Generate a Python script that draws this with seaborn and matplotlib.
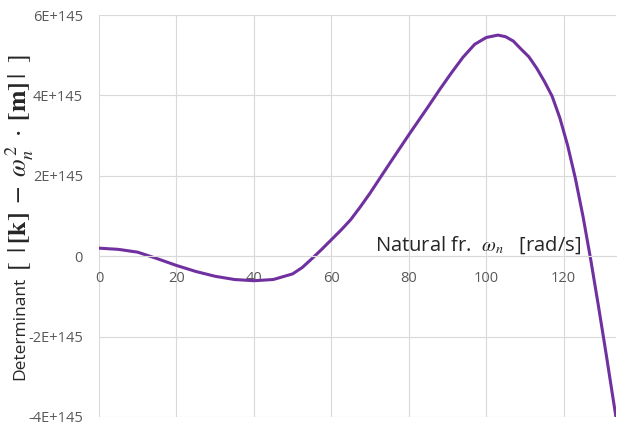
import matplotlib
matplotlib.use("Agg")
import matplotlib.pyplot as plt
import seaborn as sns
import pandas as pd
from matplotlib.ticker import FuncFormatter

# Data (determinant in units of 1E+145)
omega = [0, 5, 10, 15, 20, 25, 30, 35, 40, 45, 50, 52.5, 55, 57.5, 60, 62.5, 65,
         67.5, 70, 75, 80, 85, 88, 91, 94, 97, 100, 103, 105, 107, 109, 111, 113,
         115, 117, 119, 121, 123, 125, 127, 129, 131, 133, 134]
det_e145 = [0.20, 0.17, 0.10, -0.06, -0.23, -0.38, -0.50, -0.58, -0.61, -0.58,
            -0.44, -0.28, -0.06, 0.17, 0.41, 0.65, 0.91, 1.23, 1.57, 2.30, 3.02,
            3.72, 4.15, 4.56, 4.95, 5.27, 5.44, 5.50, 5.46, 5.35, 5.15, 4.96, 4.68,
            4.35, 3.98, 3.44, 2.76, 1.94, 0.98, -0.10, -1.26, -2.46, -3.70, -4.32]
x_ticks = [0, 20, 40, 60, 80, 100, 120]
y_ticks_e145 = [-4, -2, 0, 2, 4, 6]

df = pd.DataFrame({"omega": omega, "det": [v * 1e145 for v in det_e145]})

sns.set_theme(style="white")
plt.rcParams["font.family"] = ["Open Sans", "DejaVu Sans"]
plt.rcParams["mathtext.fontset"] = "stix"

fig = plt.figure(figsize=(6.17, 4.25), dpi=100)
ax = fig.add_axes([99 / 617, 8 / 425, 517 / 617, 402 / 425])

sns.lineplot(data=df, x="omega", y="det", ax=ax, color="#7030A0", linewidth=2.2,
             sort=False)

ax.set_xlim(0, 133.5)
ax.set_ylim(-4e145, 6e145)
ax.set_xticks(x_ticks)
ax.set_yticks([v * 1e145 for v in y_ticks_e145])

def yfmt(v, pos):
    m = round(v / 1e145)
    return "0" if m == 0 else f"{m}E+145"

ax.yaxis.set_major_formatter(FuncFormatter(yfmt))
ax.grid(True, color="#d9d9d9", linewidth=0.8)
for s in ["top", "right", "left"]:
    ax.spines[s].set_visible(False)
ax.spines["bottom"].set_position(("data", 0))
ax.spines["bottom"].set_color("#d9d9d9")
ax.spines["bottom"].set_linewidth(0.8)
ax.tick_params(axis="both", length=0, labelsize=10.5, colors="#595959")
ax.tick_params(axis="x", pad=11)
ax.tick_params(axis="y", pad=11.5)
ax.set_xlabel("")
ax.set_ylabel("")

fig.text(0.774, 1 - 245 / 425,
         r"Natural fr.  $\omega_n$   [rad/s]",
         ha="center", va="center", fontsize=14.5, color="#262626")
fig.text(20 / 617, 1 - 277 / 425, "Determinant",
         ha="center", va="top", rotation=90, fontsize=12.5, color="#262626")
fig.text(20 / 617, 1 - 271 / 425,
         r"$[\;\;|\,\mathbf{[k]}\;-\;\omega_n^{\,2}\;\cdot\;\mathbf{[m]}\,|\;\;]$",
         ha="center", va="bottom", rotation=90, fontsize=18.5, color="#262626")

fig.savefig("out.png", dpi=100)
